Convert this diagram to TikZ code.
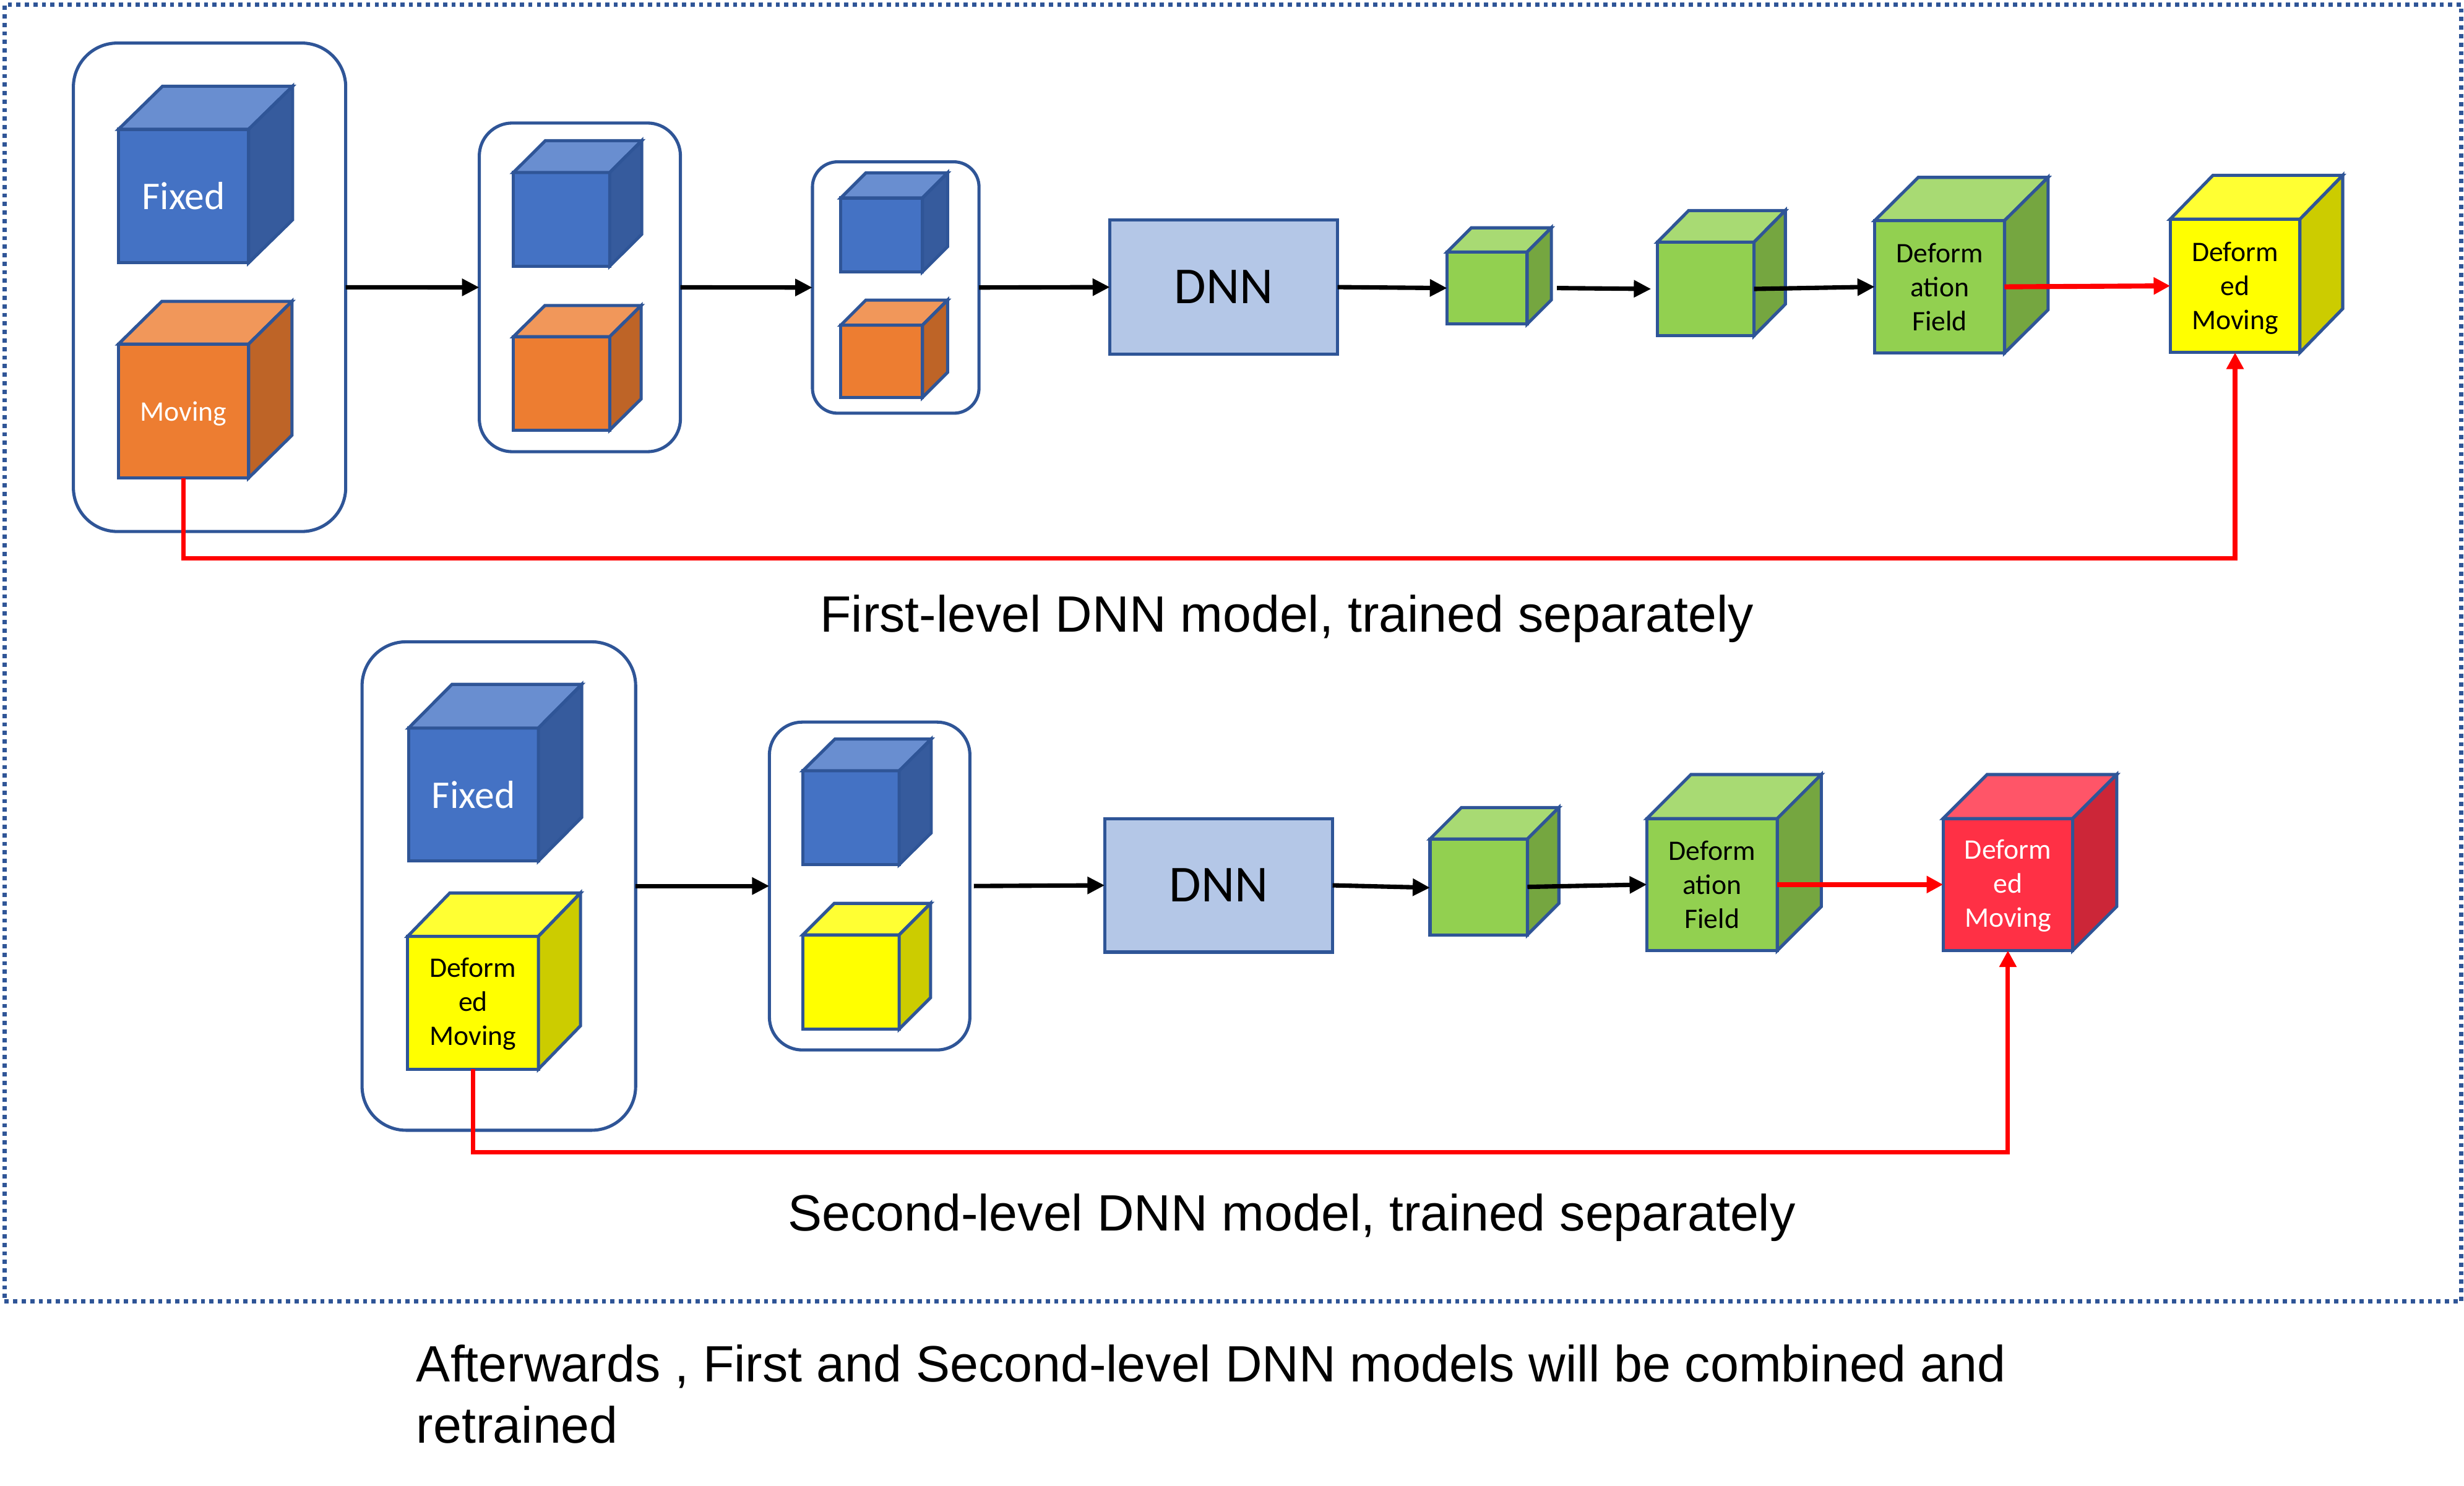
\documentclass[tikz,border=0pt]{standalone}
\usepackage{fontspec}
\setmainfont{Liberation Sans}
\newfontfamily\calib{Carlito}
\usetikzlibrary{arrows.meta}
\definecolor{edgeblue}{HTML}{2F5597}
\definecolor{blueF}{HTML}{4472C4}\definecolor{blueS}{HTML}{365B9D}\definecolor{blueT}{HTML}{698ED0}
\definecolor{orangeF}{HTML}{ED7D31}\definecolor{orangeS}{HTML}{BE6427}\definecolor{orangeT}{HTML}{F1975A}
\definecolor{greenF}{HTML}{92D050}\definecolor{greenS}{HTML}{75A640}\definecolor{greenT}{HTML}{A8DA73}
\definecolor{yellowF}{HTML}{FFFF00}\definecolor{yellowS}{HTML}{CCCC00}\definecolor{yellowT}{HTML}{FFFF33}
\definecolor{redF}{HTML}{FF3045}\definecolor{redS}{HTML}{CC2638}\definecolor{redT}{HTML}{FF5568}
\definecolor{dnnfill}{HTML}{B4C7E7}
\tikzset{
  x=1pt,y=-1pt,
  facenode/.style={draw=edgeblue,line width=2pt,inner sep=0pt,outer sep=0pt,align=center},
  groupbox/.style={draw=edgeblue,line width=2pt,inner sep=0pt,outer sep=0pt,fill=white},
  dnnbox/.style={draw=edgeblue,line width=2pt,fill=dnnfill,inner sep=0pt,outer sep=0pt,font=\calib\fontsize{33}{38}\selectfont},
  framebox/.style={draw=edgeblue,line width=2.67pt,dash pattern=on 2.67pt off 2.76pt,inner sep=0pt,outer sep=0pt},
  blackarrow/.style={draw=black,line width=2.8pt,-{Triangle[length=11pt,width=10.5pt]}},
  redarrow/.style={draw=red,line width=3.2pt,-{Triangle[length=10.5pt,width=10.5pt]}},
  redloop/.style={draw=red,line width=2.8pt,-{Triangle[length=10.5pt,width=10.5pt]}},
  caption/.style={inner sep=0pt,outer sep=0pt,font=\fontsize{32.5}{39}\selectfont},
  bigwhite/.style={font=\calib\fontsize{25}{28}\selectfont,text=white},
  smallwhite/.style={font=\calib\fontsize{18}{21.7}\selectfont,text=white},
  smallblack/.style={font=\calib\fontsize{18}{21.7}\selectfont,text=black}
}
% [text style], name, L, T, R, B, depth shift (dx,-dy), colour prefix, text
\newcommand{\mycube}[9][]{%
  \pgfmathsetmacro{\cw}{#5-#3}\pgfmathsetmacro{\ch}{#6-#4}%
  \pgfmathsetmacro{\cx}{(#3+#5)/2}\pgfmathsetmacro{\cy}{(#4+#6)/2}%
  \node[facenode,fill=#8F,minimum width=\cw pt,minimum height=\ch pt,#1] (#2) at (\cx,\cy) {#9};
  \draw[edgeblue,line width=2pt,fill=#8T] (#2.north west) -- ([shift={(#7)}]#2.north west) -- ([shift={(#7)}]#2.north east) -- (#2.north east) -- cycle;
  \draw[edgeblue,line width=2pt,fill=#8S] (#2.north east) -- ([shift={(#7)}]#2.north east) -- ([shift={(#7)}]#2.south east) -- (#2.south east) -- cycle;
}
\begin{document}
\begin{tikzpicture}
\useasboundingbox (0,0) rectangle (1568,945.45);
\node[framebox,minimum width=1563.4pt,minimum height=825.5pt] (frame) at (784.6,415.65) {};

% --- first level ---
\node[groupbox,rounded corners=28pt,minimum width=173.3pt,minimum height=310.9pt] (A1) at (133.35,182.85) {};
\node[groupbox,rounded corners=21pt,minimum width=128pt,minimum height=209.2pt] (A2) at (369,182.9) {};
\node[groupbox,rounded corners=16pt,minimum width=106pt,minimum height=160pt] (A3) at (570,183) {};
\node[dnnbox,minimum width=144.9pt,minimum height=85.5pt] (AD) at (778.75,182.75) {DNN};

\mycube[bigwhite]{afix}{75.4}{82.3}{158.2}{167.3}{28,-27.4}{blue}{Fixed}
\mycube[smallwhite,text depth=0pt]{amov}{75.4}{219}{158.2}{304.2}{27.6,-27.2}{orange}{Moving}
\mycube{abl}{326.7}{109.8}{388}{169.4}{20.4,-20.3}{blue}{}
\mycube{aor}{326.7}{214.3}{388}{273.7}{20,-19.8}{orange}{}
\mycube{abs}{535}{126}{587}{173}{16,-16}{blue}{}
\mycube{aos}{535}{207}{587}{253}{16,-16}{orange}{}
\mycube{ag}{920.9}{160.4}{971.8}{206.3}{15.4,-15.4}{green}{}
\mycube{ah}{1054.7}{154.1}{1116.2}{213.7}{19.9,-20.1}{green}{}
\mycube[smallblack]{adf}{1193}{140.4}{1275.6}{224.7}{27.7,-27.5}{green}{Deform\\ation\\Field}
\mycube[smallblack,text depth=0pt]{adm}{1381}{139.5}{1463.6}{224.4}{27.2,-27.9}{yellow}{Deform\\ed\\Moving}

\draw[blackarrow] (A1.east) -- (A2.west);
\draw[blackarrow] (A2.east) -- (A3.west);
\draw[blackarrow] (A3.east) -- (AD.west);
\draw[blackarrow] (AD.east) -- (ag.west);
\draw[blackarrow] ([xshift=19pt]ag.east) -- ([xshift=-4pt]ah.west);
\draw[blackarrow] (ah.east) -- (adf.west);
\draw[redarrow] (adf.east) -- (adm.west);
\coordinate (alow) at (0,355.5);
\draw[redloop] (amov.south) |- (alow -| adm.south) -- (adm.south);

\node[caption] (capA) at (819,394) {First-level DNN model, trained separately};

% --- second level ---
\node[groupbox,rounded corners=28pt,minimum width=174.1pt,minimum height=310.9pt] (B1) at (317.45,563.95) {};
\node[groupbox,rounded corners=21pt,minimum width=127.6pt,minimum height=208.7pt] (B2) at (553.4,563.95) {};
\node[dnnbox,minimum width=145pt,minimum height=85pt] (BD) at (775.5,563.5) {DNN};

\mycube[bigwhite]{bfix}{260}{463.4}{342.6}{548}{27.6,-27.8}{blue}{Fixed}
\mycube[smallblack,text depth=1.5pt]{bdm}{259.4}{596}{342.6}{680.5}{26.8,-27.6}{yellow}{Deform\\ed\\Moving}
\mycube{bbl}{510.9}{490.6}{572.2}{550.3}{20.4,-20.2}{blue}{}
\mycube{byl}{510.9}{595}{572.2}{655}{20,-20}{yellow}{}
\mycube{bg}{910}{534}{972}{595}{20,-20}{green}{}
\mycube[smallblack]{bdf}{1048}{521}{1131}{605}{28,-28}{green}{Deform\\ation\\Field}
\mycube[smallwhite,text depth=1.5pt]{brd}{1236.5}{521}{1319}{605}{28,-28}{red}{Deform\\ed\\Moving}

\draw[blackarrow] (B1.east) -- (B2.west);
\draw[blackarrow] ([xshift=2.5pt]B2.east) -- (BD.west);
\draw[blackarrow] (BD.east) -- ([yshift=-0.5pt]bg.west);
\draw[blackarrow] (bg.east) -- (bdf.west);
\draw[redarrow] (bdf.east) -- (brd.west);
\coordinate (blow) at (0,733.5);
\draw[redloop] (bdm.south) |- (blow -| brd.south) -- (brd.south);

\node[caption] (capB) at (822,775) {Second-level DNN model, trained separately};
\node[caption,anchor=north west,align=left] (capC) at (265,856) {Afterwards , First and Second-level DNN models will be combined and\\retrained};
\end{tikzpicture}
\end{document}
